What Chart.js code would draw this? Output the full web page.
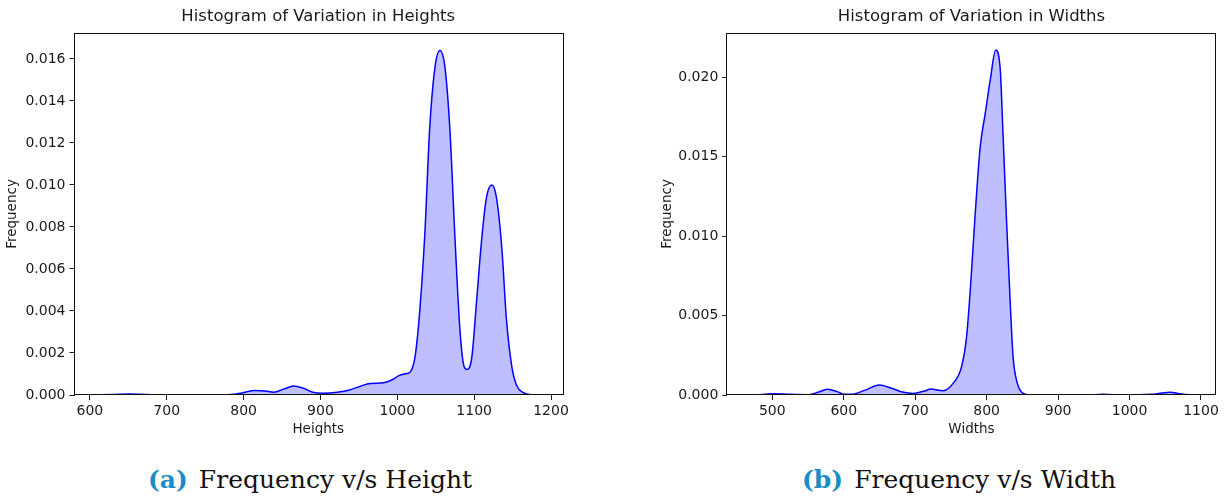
<!DOCTYPE html>
<html>
<head>
<meta charset="utf-8">
<script src="https://cdn.jsdelivr.net/npm/chart.js@4.4.1/dist/chart.umd.min.js"></script>
<style>
    body { margin: 0; background: #fff; width: 1225px; height: 497px; position: relative; overflow: hidden; }
    canvas { position: absolute; top: 0; }
    #heightChart { left: 0; }
    #widthChart { left: 650px; }
    .caption {
        position: absolute;
        top: 467px;
        font-family: "DejaVu Serif", serif;
        font-size: 25px;
        line-height: 25px;
        color: #111;
        white-space: nowrap;
    }
    .caption b { color: #1a8cc6; margin-right: 11px; }
</style>
</head>
<body>
<canvas id="heightChart" width="600" height="445"></canvas>
<canvas id="widthChart" width="575" height="445"></canvas>
<div class="caption" style="left:148px"><b>(a)</b>Frequency v/s Height</div>
<div class="caption" style="left:802px"><b>(b)</b>Frequency v/s Width</div>

<script>
// density curve of the heights
const heightX = [607, 630, 652, 675, 700, 760, 783, 798, 815, 828, 839, 853, 865, 878, 890, 903,
    922, 938, 952, 965, 982, 992, 1002, 1012, 1017, 1023, 1029, 1036, 1042, 1049, 1055.5, 1062,
    1068.5, 1075, 1081.5, 1087, 1091, 1097, 1103, 1110, 1116, 1123, 1129, 1136, 1142, 1149,
    1155, 1164, 1175, 1187];
const heightY = [0, 0.00002, 0.00005, 0.00002, 0, 0, 0.00002, 0.0001, 0.00022, 0.00019, 0.00013,
    0.00029, 0.00043, 0.00032, 0.00013, 0.00008, 0.00013, 0.00024, 0.00042, 0.00055, 0.00058,
    0.0007, 0.00092, 0.00102, 0.0011, 0.0018, 0.0039, 0.0078, 0.0126, 0.0156, 0.0164, 0.0156,
    0.0126, 0.0075, 0.0031, 0.00135, 0.00122, 0.0018, 0.0044, 0.0075, 0.0094, 0.0100, 0.0094,
    0.0070, 0.0036, 0.00135, 0.00048, 0.00011, 0.00001, 0];

// density curve of the widths
const widthX = [476, 490, 500, 525, 551, 564, 577, 590, 601, 611, 629, 650, 666, 682, 697, 713,
    722, 739, 753, 765, 772, 778, 784, 791, 798, 805, 812.7, 819, 823, 828, 833, 837, 843, 851,
    860, 940, 963, 990, 1030, 1045, 1057, 1070, 1085, 1094];
const widthY = [0, 0.00004, 0.00008, 0.00004, 0.00002, 0.00017, 0.00036, 0.00023, 0.00004,
    0.00004, 0.00029, 0.00063, 0.00044, 0.00019, 0.0001, 0.00025, 0.00037, 0.00027, 0.00073,
    0.0018, 0.0037, 0.0072, 0.0114, 0.0156, 0.0177, 0.0198, 0.0217, 0.0205, 0.0163, 0.0108,
    0.0058, 0.0024, 0.00073, 0.0001, 0, 0, 0.00004, 0, 0.00004, 0.00012, 0.00017, 0.00008,
    0.00001, 0];

// tick labels
const heightXTicks = [600, 700, 800, 900, 1000, 1100, 1200];
const heightYTicks = [0, 0.002, 0.004, 0.006, 0.008, 0.010, 0.012, 0.014, 0.016];
const widthXTicks = [500, 600, 700, 800, 900, 1000, 1100];
const widthYTicks = [0, 0.005, 0.010, 0.015, 0.020];

const textColor = "#1a1a1a";
const font = "'DejaVu Sans', sans-serif";

// box around the plot area, plus the title centred over it (not over the canvas)
const frame = {
    id: "frame",
    afterDraw(chart, args, opts) {
        const a = chart.chartArea;
        const ctx = chart.ctx;
        ctx.save();
        ctx.strokeStyle = "#111";
        ctx.lineWidth = 1;
        ctx.strokeRect(Math.round(a.left) - 0.5, Math.round(a.top) + 0.5,
            Math.round(a.right - a.left) + 1, Math.round(a.bottom - a.top) - 1);
        ctx.fillStyle = textColor;
        ctx.font = "16.5px " + font;
        ctx.textAlign = "center";
        ctx.textBaseline = "middle";
        ctx.fillText(opts.text, (a.left + a.right) / 2, 17);
        ctx.restore();
    }
};

function makeChart(id, opts) {
    const points = opts.xs.map((x, i) => ({ x: x, y: opts.ys[i] }));
    return new Chart(document.getElementById(id), {
        type: "line",
        data: {
            datasets: [{
                data: points,
                borderColor: "#0000ff",
                backgroundColor: "rgba(0, 0, 255, 0.25)",
                borderWidth: 1.5,
                pointRadius: 0,
                fill: "origin",
                cubicInterpolationMode: "monotone"
            }]
        },
        options: {
            responsive: false,
            animation: false,
            layout: { padding: { left: 0, right: opts.padRight, top: 33, bottom: 0 } },
            plugins: {
                legend: { display: false },
                tooltip: { enabled: false },
                title: { display: false },
                frame: { text: opts.title }
            },
            scales: {
                x: {
                    type: "linear",
                    min: opts.xMin,
                    max: opts.xMax,
                    afterFit(scale) { scale.height = 50; },
                    afterBuildTicks(scale) { scale.ticks = opts.xTicks.map(v => ({ value: v })); },
                    border: { display: false },
                    grid: { drawOnChartArea: false, tickLength: 5, color: textColor },
                    ticks: {
                        color: textColor,
                        padding: 3,
                        maxRotation: 0,
                        font: { family: font, size: 14 },
                        callback: v => String(v)
                    },
                    title: {
                        display: true,
                        text: opts.xLabel,
                        color: textColor,
                        font: { family: font, size: 13.5 },
                        padding: { top: 0, bottom: 7 }
                    }
                },
                y: {
                    type: "linear",
                    min: 0,
                    max: opts.yMax,
                    afterFit(scale) { scale.width = opts.yWidth; },
                    afterBuildTicks(scale) { scale.ticks = opts.yTicks.map(v => ({ value: v })); },
                    border: { display: false },
                    grid: { drawOnChartArea: false, tickLength: 5, color: textColor },
                    ticks: {
                        color: textColor,
                        padding: 4,
                        font: { family: font, size: 14 },
                        callback: v => v.toFixed(3)
                    },
                    title: {
                        display: true,
                        text: "Frequency",
                        color: textColor,
                        font: { family: font, size: 13.5 },
                        padding: { top: opts.yTitlePad, bottom: 0 }
                    }
                }
            }
        },
        plugins: [frame]
    });
}

makeChart("heightChart", {
    xs: heightX, ys: heightY,
    xTicks: heightXTicks, yTicks: heightYTicks,
    xMin: 580, xMax: 1214.3, yMax: 0.017235,
    title: "Histogram of Variation in Heights",
    xLabel: "Heights",
    yWidth: 74.5, yTitlePad: 4.5, padRight: 38
});

makeChart("widthChart", {
    xs: widthX, ys: widthY,
    xTicks: widthXTicks, yTicks: widthYTicks,
    xMin: 437, xMax: 1120.6, yMax: 0.02277,
    title: "Histogram of Variation in Widths",
    xLabel: "Widths",
    yWidth: 77.3, yTitlePad: 9.5, padRight: 9.3
});
</script>
</body>
</html>
